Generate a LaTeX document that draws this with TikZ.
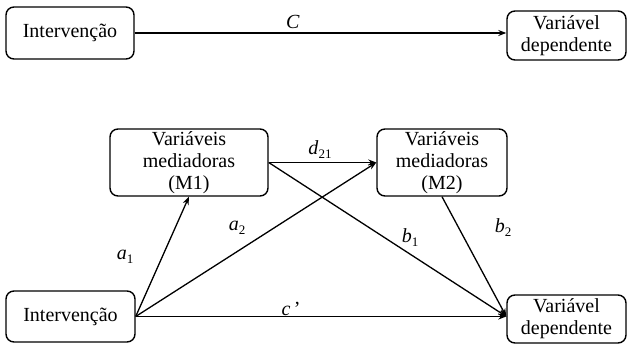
\documentclass[tikz,border=0pt]{standalone}
\usepackage{fontspec}
\setmainfont{Liberation Serif}
\usetikzlibrary{arrows.meta}
\newcommand{\lbl}[2]{\textit{#1}\raisebox{-4pt}{\fontsize{13}{13}\selectfont #2}}
\begin{document}
\begin{tikzpicture}[x=1pt,y=-1pt,
  vbox/.style={draw,line width=1.4pt,rounded corners=8pt,align=center,inner sep=0pt,
    font=\fontsize{20}{22}\selectfont},
  conn/.style={line width=1.3pt,-{Stealth[length=8pt,width=6pt]}},
  lab/.style={font=\fontsize{20}{22}\selectfont,inner sep=0pt}]
\useasboundingbox (0,0) rectangle (629,344);
\node[vbox,minimum width=128pt,minimum height=52pt] (I1) at (70,33) {Intervenção};
\node[vbox,minimum width=119pt,minimum height=49pt] (D1) at (566.5,35.5) {Variável\\dependente};
\node[vbox,minimum width=158pt,minimum height=67pt] (M1) at (189,162.5) {Variáveis\\mediadoras\\(M1)};
\node[vbox,minimum width=130pt,minimum height=67pt] (M2) at (442,162.5) {Variáveis\\mediadoras\\(M2)};
\node[vbox,minimum width=129pt,minimum height=51pt] (I2) at (70.5,316.5) {Intervenção};
\node[vbox,minimum width=119pt,minimum height=48pt] (D2) at (566.5,319) {Variável\\dependente};
\coordinate (t1) at (I1.east -| D1.west);
\coordinate (m1s) at (M1.south);
\coordinate (m2s) at (M2.south);
\coordinate (I2e) at (I2.east);
\coordinate (D2w) at (D2.west |- I2.east);
\draw[conn] (I1.east) -- (t1);
\draw[conn] (I2e) -- (m1s);
\draw[conn] (I2e) -- (M2.west);
\draw[conn] (M1.east) -- (M2.west);
\draw[conn] (M1.east) -- (D2w);
\draw[conn] (m2s) -- (D2w);
\draw[conn] (I2e) -- (D2w);
\node[lab] (lC) at (293,22) {\textit{C}};
\node[lab] (ld) at (320,150) {\lbl{d}{21}};
\node[lab] (la1) at (125,257) {\lbl{a}{1}};
\node[lab] (la2) at (237,228) {\lbl{a}{2}};
\node[lab] (lb1) at (410,238) {\lbl{b}{1}};
\node[lab] (lb2) at (503,228) {\lbl{b}{2}};
\node[lab] (lc) at (291,309) {\textit{c}\,’};
\end{tikzpicture}
\end{document}
